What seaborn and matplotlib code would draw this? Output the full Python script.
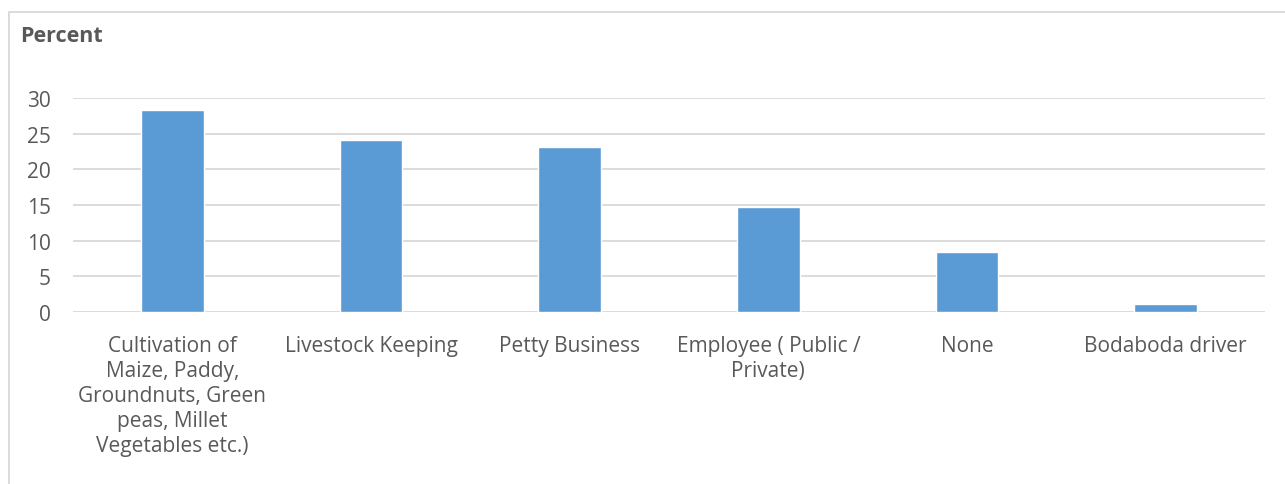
import matplotlib
matplotlib.use("Agg")
import matplotlib.pyplot as plt
import seaborn as sns
import pandas as pd
from matplotlib.patches import Rectangle

categories = [
    "Cultivation of\nMaize, Paddy,\nGroundnuts, Green\npeas, Millet\nVegetables etc.)",
    "Livestock Keeping",
    "Petty Business",
    "Employee ( Public /\nPrivate)",
    "None",
    "Bodaboda driver",
]
percent = [28.3, 24.1, 23.1, 14.7, 8.4, 1.1]
y_ticks = [0, 5, 10, 15, 20, 25, 30]

sns.set_theme(style="white")
plt.rcParams["font.family"] = ["Open Sans", "DejaVu Sans"]

text_color = "#595959"
grid_color = "#d9d9d9"
bar_color = "#5b9bd5"

df = pd.DataFrame({"category": categories, "percent": percent})

fig = plt.figure(figsize=(12.85, 4.85), dpi=100)
ax = fig.add_axes([73 / 1285, 1 - 313 / 485, (1265 - 73) / 1285, (313 - 99) / 485])

sns.barplot(data=df, x="category", y="percent", color=bar_color,
            saturation=1, width=0.317, ax=ax, zorder=3)

ax.set_ylim(0, 30)
ax.set_xlim(-0.5, len(categories) - 0.5)
ax.set_yticks(y_ticks)
ax.set_yticklabels([str(t) for t in y_ticks], color=text_color, fontsize=15)
ax.tick_params(axis="y", length=0, pad=16)
ax.tick_params(axis="x", length=0, pad=16.5)
for lbl in ax.get_xticklabels():
    lbl.set_color(text_color)
    lbl.set_fontsize(15)
    lbl.set_linespacing(1.25)
    lbl.set_verticalalignment("top")
ax.set_xlabel("")
ax.set_ylabel("")
for t in y_ticks:
    ax.axhline(t, color=grid_color, linewidth=1.3, zorder=1)
for s in ax.spines.values():
    s.set_visible(False)

fig.text(20 / 1285, 1 - 36 / 485, "Percent", fontsize=15.5, fontweight="bold",
         color=text_color, va="center", ha="left")

# outer chart frame
fig.patches.append(Rectangle((9 / 1285, -0.05), 1.2, 1 - 13 / 485 + 0.05,
                             transform=fig.transFigure, fill=False,
                             edgecolor=grid_color, linewidth=1.3))

fig.savefig("out.png", dpi=100)
